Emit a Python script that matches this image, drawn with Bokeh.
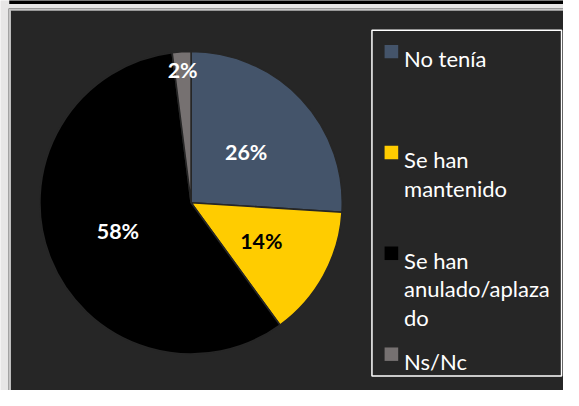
import math
from bokeh.plotting import figure
from bokeh.models import Range1d, ColumnDataSource
from bokeh.core.properties import value
from bokeh.embed import file_html
from bokeh.resources import INLINE

# ---- data ----
categories = ["No tenía", "Se han mantenido", "Se han anulado/aplazado", "Ns/Nc"]
values = [26, 14, 58, 2]
pct_labels = ["26%", "14%", "58%", "2%"]
colors = ["#44546A", "#FFCC00", "#000000", "#767171"]
label_colors = ["#FFFFFF", "#000000", "#FFFFFF", "#FFFFFF"]
legend_lines = [["No tenía"], ["Se han", "mantenido"], ["Se han", "anulado/aplaza", "do"], ["Ns/Nc"]]

# ---- layout: reference frame 579x406 (y measured downward) mapped into figure ----
RW, RH = 579, 406
W, H = 563, 390
S = W / RW
def Y(v):
    return RH - v

p = figure(width=W, height=H, output_backend="svg", toolbar_location=None,
           x_range=Range1d(0, RW), y_range=Range1d(0, RH),
           min_border=0, outline_line_color=None)
p.axis.visible = False
p.grid.visible = False
p.background_fill_color = "#E7E6E6"
p.border_fill_color = "#E7E6E6"

# top dark bar
p.quad(left=[9], right=[RW + 5], top=[Y(-5)], bottom=[Y(3.7)],
       fill_color="#000000", line_color=None)
# chart area with border
p.quad(left=[8.5], right=[RW + 20], top=[Y(8.5)], bottom=[Y(RH + 20)],
       fill_color=None, line_color="#8C8C8C", line_width=1)
p.quad(left=[10], right=[RW + 20], top=[Y(10)], bottom=[Y(RH + 20)],
       fill_color="#262626", line_color="#BDBDBD", line_width=1.5)

# pie
cx, cy, r = 196, 210.5, 155.5
total = sum(values)
starts, ends, mids = [], [], []
acc = 0
for v in values:
    a0 = math.pi / 2 - 2 * math.pi * acc / total
    acc += v
    a1 = math.pi / 2 - 2 * math.pi * acc / total
    starts.append(a1)
    ends.append(a0)
    mids.append((a0 + a1) / 2)

src = ColumnDataSource(dict(start=starts, end=ends, color=colors, cat=categories))
p.wedge(x=cx, y=Y(cy), radius=r, start_angle="start", end_angle="end",
        fill_color="color", line_color="#262626", line_width=1.6, source=src)

# data labels
rad_frac = [0.50, 0.53, 0.52, 0.89]
lx = [cx + f * r * math.cos(m) for f, m in zip(rad_frac, mids)]
ly = [Y(cy) + f * r * math.sin(m) for f, m in zip(rad_frac, mids)]
p.text(x=lx, y=ly, text=pct_labels, text_color=label_colors,
       text_font=value("Lato"), text_font_style="bold",
       text_font_size=f"{22 * S:.1f}px",
       text_align="center", text_baseline="middle")

# legend
p.quad(left=[382], right=[577], top=[Y(31)], bottom=[Y(391)],
       fill_color=None, line_color="#FFFFFF", line_width=1.5)
first_base, entry_gap, line_gap = 60.7, 105, 29.5
tx, ty, tt = [], [], []
for i, lines in enumerate(legend_lines):
    base = first_base + i * entry_gap
    p.rect(x=[402], y=[Y(base - 7.5)], width=14, height=14,
           fill_color=colors[i], line_color=None)
    for j, ln in enumerate(lines):
        tx.append(415)
        ty.append(Y(base + j * line_gap))
        tt.append(ln)
p.text(x=tx, y=ty, text=tt, text_color="#FFFFFF", text_font=value("Lato"),
       text_font_size=f"{22.6 * S:.1f}px", text_align="left", text_baseline="alphabetic")

open("out.html", "w").write(file_html(p, INLINE))
